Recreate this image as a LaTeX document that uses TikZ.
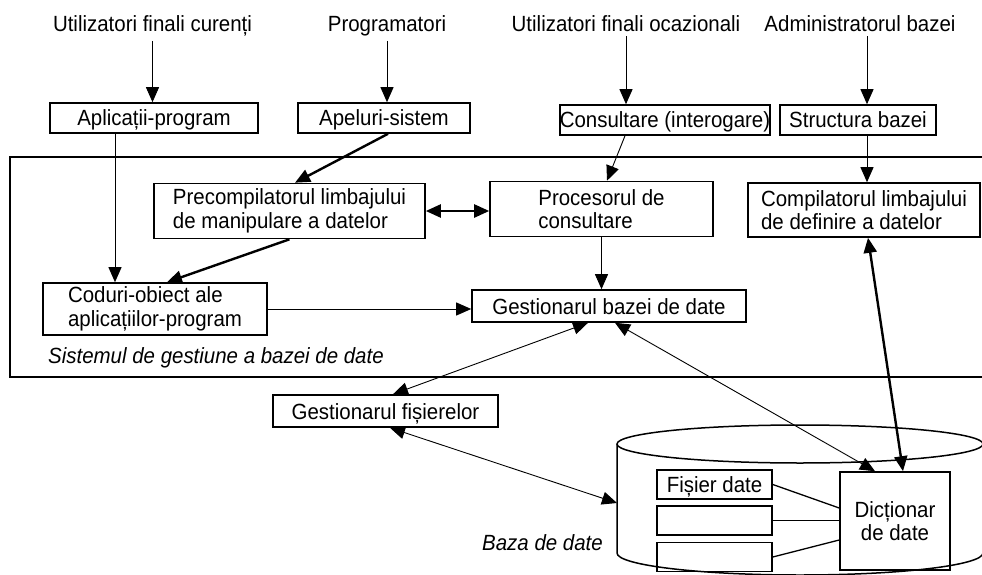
\documentclass[tikz,border=0pt]{standalone}
\usepackage{fontspec}
\setmainfont[FakeStretch=0.93]{Liberation Sans}
\usetikzlibrary{arrows.meta}
\tikzset{
  base/.style={font=\fontsize{22pt}{23.5pt}\selectfont},
  lbl/.style={base, inner sep=0pt},
  box/.style={base, draw, line width=1.6pt, inner sep=2pt, minimum width=#1},
  one/.style={text height=16pt, text depth=0pt},
  sbox/.style={box=#1, one, minimum height=30pt},
  tbox/.style={box=#1, minimum height=55pt, align=left},
  arr/.style={line width=0.9pt, -{Triangle[length=15pt,width=13pt]}},
  darr/.style={line width=0.9pt, {Triangle[length=15pt,width=13pt]}-{Triangle[length=15pt,width=13pt]}},
  tarr/.style={line width=2.4pt, -{Triangle[length=15pt,width=13pt]}},
  tdarr/.style={line width=2.4pt, {Triangle[length=15pt,width=13pt]}-{Triangle[length=15pt,width=13pt]}},
  ln/.style={line width=1.3pt}
}
\begin{document}
\begin{tikzpicture}[x=1pt,y=-1pt]
\useasboundingbox (0,0) rectangle (982,575);
\clip (0,0) rectangle (982,575);
% top labels
\node[lbl, anchor=base] (t1) at (152.5,32) {Utilizatori finali curenți};
\node[lbl, anchor=base] (t2) at (387,32) {Programatori};
\node[lbl, anchor=base] (t3) at (626,32) {Utilizatori finali ocazionali};
\node[lbl, anchor=base] (t4) at (860,32) {Administratorul bazei};
% second row
\node[sbox=208pt] (apl) at (154,118) {Aplicații-program};
\node[sbox=172pt] (ape) at (384,118) {Apeluri-sistem};
\node[sbox=147pt, inner sep=0pt] (con) at (665,120) {Consultare (interogare)};
\node[sbox=156pt] (str) at (858,120) {Structura bazei};
% system frame
\draw[line width=1.5pt] (982,157) -- (10,157) -- (10,377) -- (982,377);
\node[tbox=271pt] (pre) at (289.5,211) {Precompilatorul limbajului\\de manipulare a datelor};
\node[tbox=223pt] (proc) at (601.5,209) {Procesorul de\\consultare};
\node[tbox=232pt, minimum height=54pt] (comp) at (864,210) {Compilatorul limbajului\\de definire a datelor};
\node[tbox=224pt, minimum height=52pt] (cod) at (155,309) {Coduri-obiect ale\\aplicațiilor-program};
\node[box=274pt, one, minimum height=32pt] (gbd) at (609,306) {Gestionarul bazei de date};
\node[lbl, anchor=west, font=\fontsize{22pt}{23.5pt}\selectfont\itshape] (sgbd) at (48,358) {Sistemul de gestiune a bazei de date};
% outside
\node[box=225pt, one, minimum height=32pt] (gf) at (385.5,411) {Gestionarul fișierelor};
\node[lbl, anchor=east, font=\fontsize{22pt}{23.5pt}\selectfont\itshape] (bd) at (603,543) {Baza de date};
% cylinder
\draw[line width=1.5pt] (800,444) ellipse [x radius=183pt, y radius=19pt];
\draw[line width=1.5pt] (617,444) -- (617,553) arc[start angle=180, end angle=360, x radius=183pt, y radius=22pt] -- (983,444);
\coordinate (cylL) at (617,503);
\node[box=115pt, one, minimum height=29pt, inner sep=0pt] (fd) at (714.5,484.5) {Fișier date};
\node[box=115pt, minimum height=29pt] (e2) at (714.5,520.5) {};
\node[box=115pt, minimum height=29pt] (e3) at (714.5,557) {};
\node[box=110pt, minimum height=98pt, align=center] (dict) at (895,521) {Dicționar\\de date};
% arrows top
\draw[arr, shorten <=4pt] (t1.south) -- (t1.south |- apl.north);
\draw[arr, shorten <=4pt] (t2.south) -- (t2.south |- ape.north);
\draw[arr, shorten <=4pt] (t3.south) -- (t3.south |- con.north);
\draw[arr, shorten <=4pt] ([xshift=7pt]t4.south) -- ([xshift=7pt]t4.south |- str.north);
% inside
\draw[arr] ([xshift=-39pt]apl.south) -- ([xshift=-39pt]apl.south |- cod.north);
\draw[tarr] ([xshift=4pt]ape.south) -- ([xshift=5.5pt]pre.north);
\draw[tarr] (pre.south) -- ([xshift=12pt]cod.north);
\draw[tdarr] (pre.east) -- (pre.east -| proc.west);
\draw[arr] ([xshift=-40pt]con.south) -- ([xshift=5.5pt]proc.north);
\draw[arr] ([xshift=9pt]str.south) -- ([xshift=9pt]str.south |- comp.north);
\draw[arr] (proc.south) -- (proc.south |- gbd.north);
\draw[arr] (cod.east) -- (cod.east -| gbd.west);
\draw[darr] ([xshift=7.5pt]gf.north) -- ([xshift=-21pt]gbd.south);
\draw[darr] ([xshift=6pt]gbd.south) -- ([xshift=-20pt]dict.north);
\draw[tdarr] ([xshift=4pt]comp.south) -- ([xshift=8pt]dict.north);
\draw[darr] ([xshift=4.5pt]gf.south) -- (cylL);
% lines to dictionary
\draw[ln] (fd.east) -- ([yshift=13pt]dict.west);
\draw[ln] (e2.east) -- (e2.east -| dict.west);
\draw[ln] (e3.east) -- ([yshift=-19pt]dict.west);
\end{tikzpicture}
\end{document}
